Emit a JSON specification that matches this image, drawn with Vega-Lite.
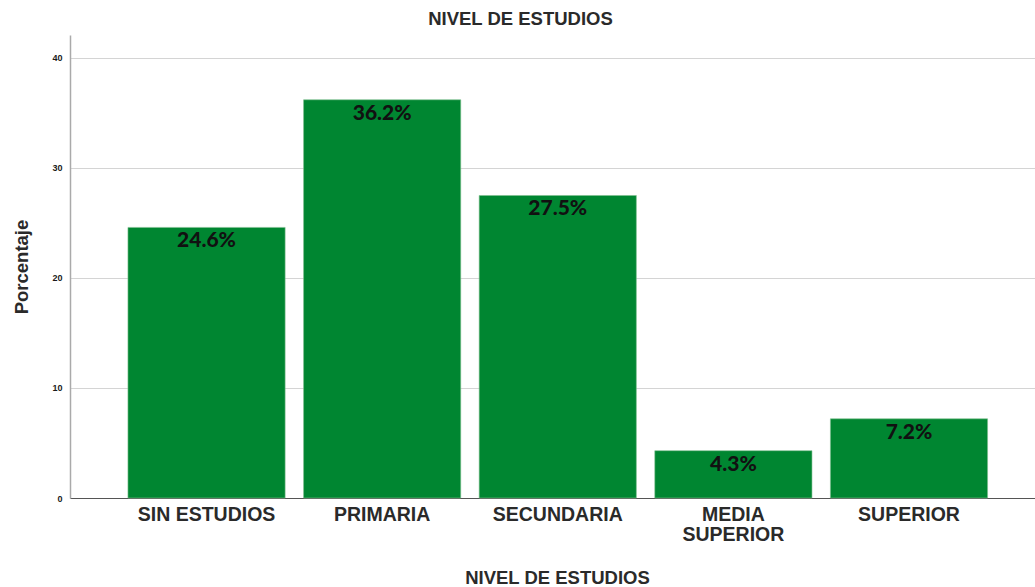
{
  "$schema": "https://vega.github.io/schema/vega-lite/v6.json",
  "autosize": "none",
  "width": 965,
  "height": 463,
  "padding": {"left": 70, "top": 35, "right": 0, "bottom": 89},
  "background": "white",
  "title": {"text": "NIVEL DE ESTUDIOS", "font": "Liberation Sans", "fontSize": 18.5, "fontWeight": "bold", "color": "#2a2a2a", "anchor": "middle", "dx": -32, "offset": 7},
  "data": {"values": [
    {"nivel": "SIN ESTUDIOS", "pct": 24.6},
    {"nivel": "PRIMARIA", "pct": 36.2},
    {"nivel": "SECUNDARIA", "pct": 27.5},
    {"nivel": "MEDIA SUPERIOR", "pct": 4.3},
    {"nivel": "SUPERIOR", "pct": 7.2}
  ]},
  "encoding": {
    "x": {"field": "nivel", "type": "nominal", "sort": null,
      "scale": {"paddingInner": 0.105, "paddingOuter": 0.3, "align": 0.55},
      "axis": {"title": "NIVEL DE ESTUDIOS", "labelAngle": 0, "ticks": false, "labelPadding": 7,
        "labelFont": "Liberation Sans", "labelFontSize": 19.5, "labelFontWeight": "bold", "labelColor": "#2a2a2a",
        "labelExpr": "datum.label == 'MEDIA SUPERIOR' ? ['MEDIA', 'SUPERIOR'] : datum.label",
        "labelLineHeight": 20,
        "titleFont": "Liberation Sans", "titleFontSize": 18.5, "titleFontWeight": "bold", "titleColor": "#2a2a2a",
        "titleX": 487, "titleY": 79, "titleBaseline": "middle",
        "domainColor": "#555555", "domainWidth": 1.2, "grid": false}},
    "y": {"field": "pct", "type": "quantitative",
      "scale": {"domain": [0, 42.09], "nice": false},
      "axis": {"title": "Porcentaje", "values": [0, 10, 20, 30, 40], "ticks": false, "labelPadding": 8,
        "labelFont": "Liberation Sans", "labelFontSize": 9, "labelFontWeight": "bold", "labelColor": "#1a1a1a",
        "titleFont": "Liberation Sans", "titleFontSize": 18.5, "titleFontWeight": "bold", "titleColor": "#2a2a2a",
        "titlePadding": 20,
        "domainColor": "#aaaaaa", "domainWidth": 1.5, "grid": true, "gridColor": "#d4d4d4", "gridWidth": 1}}
  },
  "layer": [
    {"mark": {"type": "bar", "color": "#008631", "stroke": "#7fc08f", "strokeWidth": 0.6}},
    {"mark": {"type": "text", "baseline": "top", "dy": 3, "font": "Lato", "fontWeight": 900, "fontSize": 21, "color": "#111111",
       "text": {"expr": "format(datum.pct, '.1f') + '%'"}}}
  ],
  "config": {"view": {"stroke": null}}
}
